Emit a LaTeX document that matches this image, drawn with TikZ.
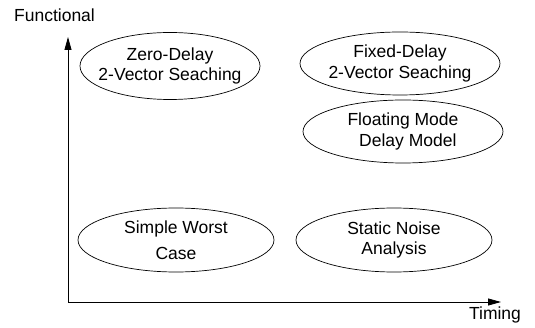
\documentclass[tikz,border=0pt]{standalone}
\usepackage{fontspec}
\setmainfont{Liberation Sans}
\usetikzlibrary{shapes.geometric,arrows.meta}
\begin{document}
\begin{tikzpicture}[x=1pt,y=-1pt,
  oval/.style={draw,ellipse,line width=0.7pt,inner sep=0pt},
  txt/.style={align=center,inner sep=0pt,font=\fontsize{17.5}{20.5}\selectfont},
  axis/.style={line width=0.8pt,-{Triangle[length=13pt,width=7pt]}},
  lbl/.style={font=\fontsize{17.5}{20.5}\selectfont,inner sep=0pt}]
\useasboundingbox (0,0) rectangle (535,328);
\coordinate (o) at (68,302);
\coordinate (ytip) at (68,37);
\coordinate (xtip) at (501,302);
\draw[axis] (o) -- (ytip);
\draw[axis] (o) -- (xtip);
\node[lbl] (fun) at (54.5,15) {Functional};
\node[lbl] (tim) at (495,315) {Timing};
\node[oval,minimum width=180pt,minimum height=67pt,label={[txt]center:Zero-Delay\\2-Vector Seaching}] (zd) at (170,66) {};
\node[oval,minimum width=200pt,minimum height=63pt,label={[txt]center:Fixed-Delay\\2-Vector Seaching}] (fd) at (400,63.5) {};
\node[oval,minimum width=200pt,minimum height=63pt,label={[txt]center:Floating Mode\\\ \ Delay Model}] (fm) at (403,131.5) {};
\node[oval,minimum width=196pt,minimum height=64pt,label={[txt]center:Simple Worst\\[5pt]Case}] (sw) at (176,240) {};
\node[oval,minimum width=196pt,minimum height=64pt,label={[txt]center:Static Noise\\Analysis}] (sn) at (394,240) {};
\end{tikzpicture}
\end{document}
